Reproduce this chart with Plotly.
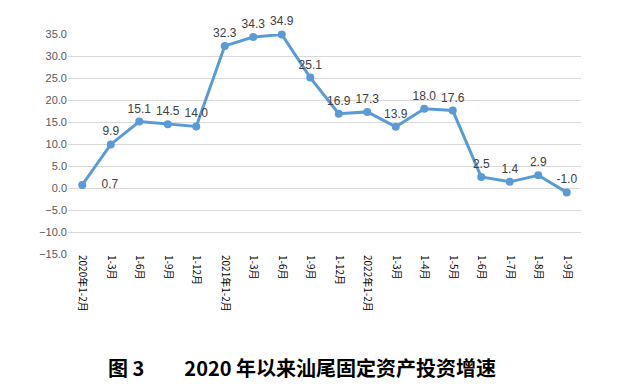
import plotly.graph_objects as go

categories = ["2020年1-2月", "1-3月", "1-6月", "1-9月", "1-12月",
              "2021年1-2月", "1-3月", "1-6月", "1-9月", "1-12月",
              "2022年1-2月", "1-3月", "1-4月", "1-5月", "1-6月", "1-7月", "1-8月", "1-9月"]
values = [0.7, 9.9, 15.1, 14.5, 14.0, 32.3, 34.3, 34.9, 25.1, 16.9, 17.3, 13.9, 18.0, 17.6, 2.5, 1.4, 2.9, -1.0]
title_text = "图 3　　2020 年以来汕尾固定资产投资增速"

x_idx = list(range(len(categories)))
positions = ["middle right"] + ["top center"] * (len(values) - 1)
labels = ["    0.7"] + [f"{v:.1f}" for v in values[1:]]

fig = go.Figure()
fig.add_trace(go.Scatter(
    x=x_idx, y=values,
    mode="lines+markers+text",
    line=dict(color="#5B9BD5", width=3),
    marker=dict(color="#5B9BD5", size=8),
    text=labels,
    textposition=positions,
    textfont=dict(family="Liberation Sans, Arial, sans-serif", size=12, color="#404040"),
    cliponaxis=False,
    showlegend=False,
))

fig.update_layout(
    width=615, height=383,
    margin=dict(l=60, r=42, t=26, b=137),
    plot_bgcolor="white", paper_bgcolor="white",
    xaxis=dict(
        range=[-0.5, len(categories) - 0.5],
        tickmode="array", tickvals=x_idx, ticktext=categories,
        tickangle=90,
        tickfont=dict(family="Noto Sans CJK SC", size=10, color="#000000"),
        showgrid=False, zeroline=False, showline=False, ticks="",
    ),
    yaxis=dict(
        range=[-15, 35], dtick=5, tick0=0, tickformat=".1f",
        tickfont=dict(family="Liberation Sans, Arial, sans-serif", size=11, color="#595959"),
        showgrid=True, gridcolor="#D9D9D9", gridwidth=1,
        zeroline=False, showline=False, ticks="",
    ),
    annotations=[dict(
        text=title_text, xref="paper", yref="paper",
        x=(302 - 68) / 513, y=(254 - 367) / 220,
        xanchor="center", yanchor="middle", showarrow=False,
        font=dict(family="Noto Sans CJK SC", size=20, color="#000000", weight="bold"),
    )],
)

fig.write_html("out.html")
